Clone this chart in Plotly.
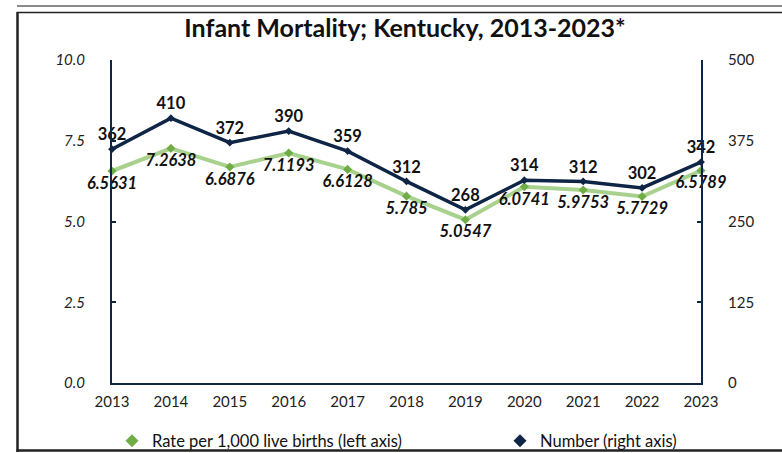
import plotly.graph_objects as go

years = [2013, 2014, 2015, 2016, 2017, 2018, 2019, 2020, 2021, 2022, 2023]
rate = [6.5631, 7.2638, 6.6876, 7.1193, 6.6128, 5.785, 5.0547, 6.0741, 5.9753, 5.7729, 6.5789]
number = [362, 410, 372, 390, 359, 312, 268, 314, 312, 302, 342]
left_ticks = [0, 2.5, 5, 7.5, 10]
left_tick_labels = ["0.0", "2.5", "5.0", "7.5", "10.0"]
right_ticks = [0, 125, 250, 375, 500]

NAVY = "#0f2545"
GREEN_LINE = "#a9d18e"
GREEN_MARK = "#70ad47"
FONT = "Lato"

W, H = 782, 453
L, R, T, B = 112, 81, 60, 70
pw, ph = W - L - R, H - T - B

def px_x(x):
    return (x - L) / pw

def px_y(y):
    return (H - B - y) / ph

fig = go.Figure()

fig.add_trace(go.Scatter(
    x=years, y=rate, mode="lines+markers+text",
    line=dict(color=GREEN_LINE, width=4),
    marker=dict(symbol="diamond", size=7, color=GREEN_MARK),
    text=[str(v) for v in rate], textposition="bottom center",
    textfont=dict(family=FONT, size=16.5, color="#111", weight="bold", style="italic"),
    cliponaxis=False, showlegend=False, yaxis="y",
))
fig.add_trace(go.Scatter(
    x=years, y=number, mode="lines+markers+text",
    line=dict(color=NAVY, width=3.5),
    marker=dict(symbol="diamond", size=6, color=NAVY),
    text=[str(v) for v in number], textposition="top center",
    textfont=dict(family=FONT, size=16.5, color="#111", weight="bold"),
    cliponaxis=False, showlegend=False, yaxis="y2",
))
# legend-only entries (marker only)
fig.add_trace(go.Scatter(x=[None], y=[None], mode="markers", name="Rate per 1,000 live births (left axis)",
                         marker=dict(symbol="diamond", size=10, color=GREEN_MARK), legend="legend"))
fig.add_trace(go.Scatter(x=[None], y=[None], mode="markers", name="Number (right axis)",
                         marker=dict(symbol="diamond", size=10, color=NAVY), yaxis="y2", legend="legend2"))

shapes = [
    dict(type="line", xref="paper", yref="paper", x0=px_x(17), x1=px_x(800), y0=px_y(6), y1=px_y(6),
         line=dict(color="#8a8a8a", width=2)),
    dict(type="line", xref="paper", yref="paper", x0=px_x(17), x1=px_x(800), y0=px_y(12.5), y1=px_y(12.5),
         line=dict(color="#222", width=1.5)),
    dict(type="line", xref="paper", yref="paper", x0=px_x(17.5), x1=px_x(17.5), y0=px_y(12), y1=px_y(452),
         line=dict(color="#222", width=2.5)),
    dict(type="line", xref="paper", yref="paper", x0=px_x(16.5), x1=px_x(800), y0=px_y(450.5), y1=px_y(450.5),
         line=dict(color="#222", width=2.5)),
]

legend_common = dict(orientation="h", xanchor="left", y=px_y(441), yanchor="middle",
                     font=dict(family=FONT, size=16.5, color="#111"), itemwidth=30,
                     bgcolor="rgba(0,0,0,0)")

fig.update_layout(
    width=W, height=H, margin=dict(l=L, r=R, t=T, b=B, autoexpand=False),
    paper_bgcolor="white", plot_bgcolor="white",
    title=dict(text="<b>Infant Mortality; Kentucky, 2013-2023*</b>", x=405 / W, xanchor="center",
               y=1 - 28 / H, yanchor="middle", font=dict(family=FONT, size=25, color="#111")),
    xaxis=dict(range=[2013, 2023], tickmode="array", tickvals=years, ticktext=[str(y) for y in years],
               showline=True, linecolor=NAVY, linewidth=2, showgrid=False, zeroline=False, ticks="",
               tickfont=dict(family=FONT, size=15, color="#222"), ticklabelstandoff=4),
    yaxis=dict(range=[0, 10], tickvals=left_ticks, ticktext=left_tick_labels,
               showline=True, linecolor=NAVY, linewidth=2, showgrid=False, zeroline=False,
               ticks="inside", ticklen=4, tickcolor=NAVY, tickwidth=1.5,
               tickfont=dict(family=FONT, size=15, color="#222", style="italic"), ticklabelstandoff=22),
    yaxis2=dict(range=[0, 500], tickvals=right_ticks, overlaying="y", side="right",
                showline=True, linecolor=NAVY, linewidth=2, showgrid=False, zeroline=False,
                ticks="inside", ticklen=4, tickcolor=NAVY, tickwidth=1.5,
                tickfont=dict(family=FONT, size=15, color="#222"), ticklabelstandoff=22),
    legend=dict(x=px_x(112), **legend_common),
    legend2=dict(x=px_x(500), **legend_common),
    shapes=shapes,
)

fig.write_html("out.html", config={"displayModeBar": False},
               post_script="document.body.style.margin='0';")
